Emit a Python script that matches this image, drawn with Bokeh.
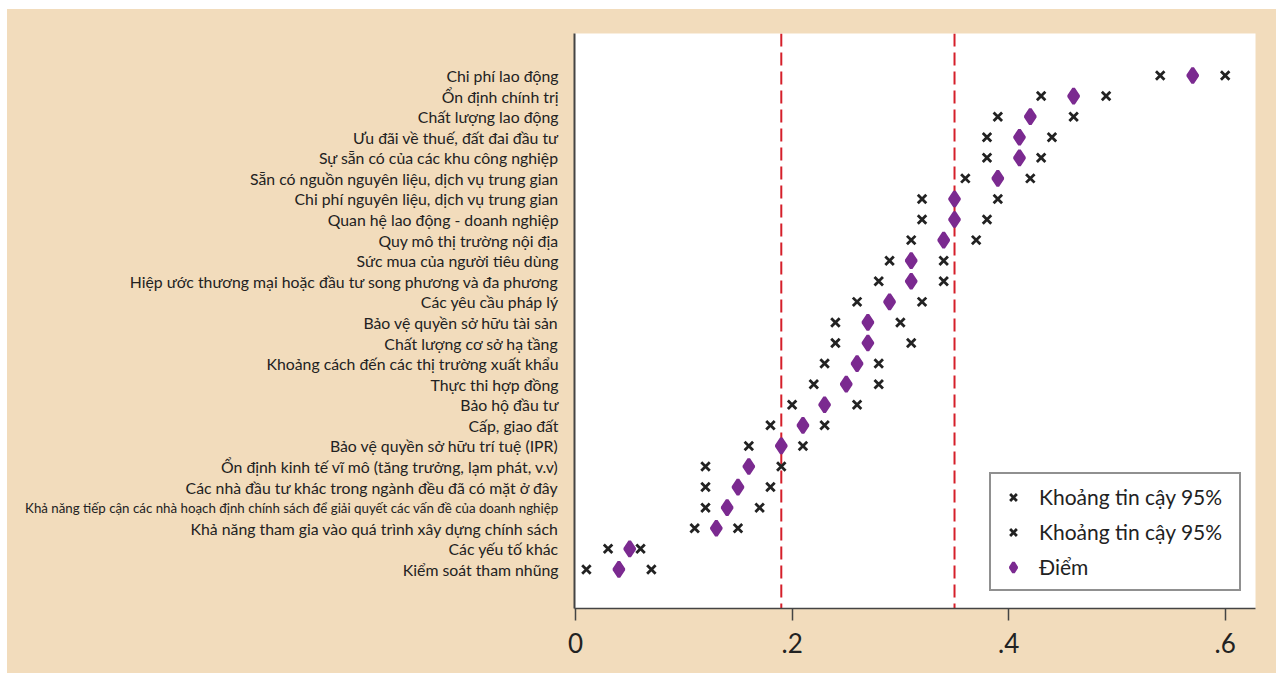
from bokeh.plotting import figure
from bokeh.layouts import row
from bokeh.models import Range1d, FixedTicker, Span, Legend, LegendItem, ColumnDataSource
from bokeh.core.properties import value
from bokeh.embed import file_html
from bokeh.resources import INLINE

# ---- data (top to bottom) ----
categories = [
    "Chi phí lao động",
    "Ổn định chính trị",
    "Chất lượng lao động",
    "Ưu đãi về thuế, đất đai đầu tư",
    "Sự sẵn có của các khu công nghiệp",
    "Sẵn có nguồn nguyên liệu, dịch vụ trung gian",
    "Chi phí nguyên liệu, dịch vụ trung gian",
    "Quan hệ lao động - doanh nghiệp",
    "Quy mô thị trường nội địa",
    "Sức mua của người tiêu dùng",
    "Hiệp ước thương mại hoặc đầu tư song phương và đa phương",
    "Các yêu cầu pháp lý",
    "Bảo vệ quyền sở hữu tài sản",
    "Chất lượng cơ sở hạ tầng",
    "Khoảng cách đến các thị trường xuất khẩu",
    "Thực thi hợp đồng",
    "Bảo hộ đầu tư",
    "Cấp, giao đất",
    "Bảo vệ quyền sở hữu trí tuệ (IPR)",
    "Ổn định kinh tế vĩ mô (tăng trưởng, lạm phát, v.v)",
    "Các nhà đầu tư khác trong ngành đều đã có mặt ở đây",
    "Khả năng tiếp cận các nhà hoạch định chính sách để giải quyết các vấn đề của doanh nghiệp",
    "Khả năng tham gia vào quá trình xây dựng chính sách",
    "Các yếu tố khác",
    "Kiểm soát tham nhũng",
]
point = [0.57, 0.46, 0.42, 0.41, 0.41, 0.39, 0.35, 0.35, 0.34, 0.31, 0.31, 0.29, 0.27,
         0.27, 0.26, 0.25, 0.23, 0.21, 0.19, 0.16, 0.15, 0.14, 0.13, 0.05, 0.04]
lower = [0.54, 0.43, 0.39, 0.38, 0.38, 0.36, 0.32, 0.32, 0.31, 0.29, 0.28, 0.26, 0.24,
         0.24, 0.23, 0.22, 0.20, 0.18, 0.16, 0.12, 0.12, 0.12, 0.11, 0.03, 0.01]
upper = [0.60, 0.49, 0.46, 0.44, 0.43, 0.42, 0.39, 0.38, 0.37, 0.34, 0.34, 0.32, 0.30,
         0.31, 0.28, 0.28, 0.26, 0.23, 0.21, 0.19, 0.18, 0.17, 0.15, 0.06, 0.07]
ref_lines = [0.19, 0.35]
x_ticks = [0, 0.2, 0.4, 0.6]
x_tick_labels = ["0", ".2", ".4", ".6"]
legend_labels = ["Khoảng tin cậy 95%", "Khoảng tin cậy 95%", "Điểm"]
small_label_category = "Khả năng tiếp cận các nhà hoạch định chính sách để giải quyết các vấn đề của doanh nghiệp"

BG = "#F2DCBC"
PURPLE = "#7B2A90"
RED = "#D51F2A"
DARK = "#222222"
FONT = "Lato"

n = len(categories)
ys = [n - i for i in range(n)]
y_range = Range1d(-0.9, 27.04)

# ---------------- main plot ----------------
p = figure(width=710, height=664, output_backend="svg", toolbar_location=None,
           x_range=Range1d(-0.001, 0.628), y_range=y_range,
           min_border_left=8, min_border_right=21, min_border_top=24, min_border_bottom=65)
p.background_fill_color = "white"
p.border_fill_color = BG
p.outline_line_color = None
p.xgrid.visible = False
p.ygrid.visible = False

for loc in ref_lines:
    p.add_layout(Span(location=loc, dimension="height", line_color=RED, line_width=2,
                      line_dash="13 6", level="underlay"))

r_lo = p.scatter(lower, ys, marker="x", size=12, line_color=DARK, line_width=2.8)
r_hi = p.scatter(upper, ys, marker="x", size=12, line_color=DARK, line_width=2.8)
r_pt = p.scatter(point, ys, marker="diamond", size=15, fill_color=PURPLE,
                 line_color=PURPLE, line_width=3)

xa = p.xaxis[0]
xa.ticker = FixedTicker(ticks=x_ticks)
xa.major_label_overrides = {t: l for t, l in zip(x_ticks, x_tick_labels)}
xa.major_tick_out = 12
xa.major_tick_in = 0
xa.minor_tick_line_color = None
xa.major_tick_line_color = "#444444"
xa.major_tick_line_width = 1.5
xa.axis_line_color = "#444444"
xa.axis_line_width = 1.5
xa.major_label_text_font = FONT
xa.major_label_text_font_size = "26px"
xa.major_label_text_color = DARK
xa.major_label_standoff = 12

ya = p.yaxis[0]
ya.ticker = FixedTicker(ticks=ys)
ya.major_label_overrides = {y: "" for y in ys}
ya.major_label_text_font_size = "1px"
ya.major_tick_out = 0
ya.major_tick_in = 0
ya.minor_tick_line_color = None
ya.major_tick_line_color = None
ya.axis_line_color = "#444444"
ya.axis_line_width = 2
ya.major_label_standoff = 0

legend = Legend(items=[LegendItem(label=legend_labels[0], renderers=[r_lo]),
                       LegendItem(label=legend_labels[1], renderers=[r_hi]),
                       LegendItem(label=legend_labels[2], renderers=[r_pt])],
                location=(415, 17))
legend.border_line_color = DARK
legend.border_line_width = 2
legend.background_fill_color = "white"
legend.background_fill_alpha = 1
legend.padding = 10
legend.spacing = 10
legend.glyph_width = 24
legend.glyph_height = 24
legend.label_standoff = 14
legend.label_width = 190
legend.label_text_font = FONT
legend.label_text_font_size = "21px"
legend.label_text_color = DARK
p.add_layout(legend)

# ---------------- category labels panel ----------------
lab = figure(width=559, height=664, output_backend="svg", toolbar_location=None,
             x_range=Range1d(0, 1), y_range=y_range,
             x_axis_location=None, y_axis_location=None,
             min_border_left=0, min_border_right=0, min_border_top=24, min_border_bottom=65)
lab.background_fill_color = BG
lab.border_fill_color = BG
lab.outline_line_color = None
lab.xgrid.visible = False
lab.ygrid.visible = False

src = ColumnDataSource(dict(
    x=[lab.x_range.end] * n,
    y=ys,
    text=categories,
    fs=["13.3px" if c == small_label_category else "15.8px" for c in categories],
))
lab.text(x="x", y="y", text="text", source=src, text_align="right", text_baseline="middle",
         x_offset=-8, text_font=value(FONT), text_font_size="fs", text_color=DARK)

layout = row(lab, p, spacing=0, margin=(9, 0, 0, 7), styles={"background-color": BG})
open("out.html", "w").write(file_html(layout, INLINE))
